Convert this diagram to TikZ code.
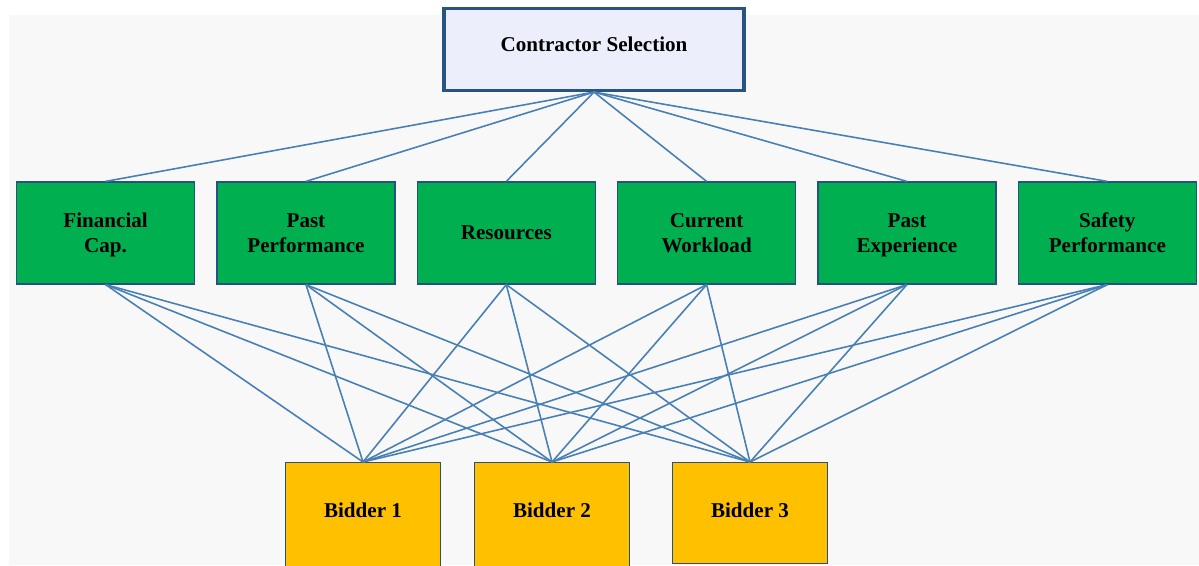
\documentclass[tikz,border=0pt]{standalone}
\usepackage{fontspec}
\setmainfont{Liberation Serif}
\usepackage{xcolor}
\usepackage{tikz}
\usetikzlibrary{positioning, shadows}
\definecolor{goalfill}{RGB}{236,239,251}
\definecolor{goalline}{RGB}{40,84,130}
\definecolor{critfill}{RGB}{0,176,80}
\definecolor{altfill}{RGB}{255,192,0}
\definecolor{boxline}{RGB}{38,82,128}
\definecolor{linkline}{RGB}{72,128,182}
\definecolor{paper}{RGB}{248,248,248}

\begin{document}
\begin{tikzpicture}[x=0.02cm, y=-0.02cm,
   every node/.style={font=\fontsize{12}{14.2}\selectfont\bfseries},
   goal/.style={rectangle, draw=goalline, line width=1.8pt, fill=goalfill,
                minimum width=6.0cm, minimum height=1.64cm, text depth=6.5pt,
                drop shadow={shadow xshift=0.7pt, shadow yshift=-0.7pt, opacity=0.45}},
   crit/.style={rectangle, draw=boxline, line width=0.7pt, fill=critfill,
                minimum width=3.56cm, minimum height=2.04cm, text depth=0pt,
                align=center, inner sep=2pt},
   alt/.style={rectangle, draw=boxline, line width=0.7pt, fill=altfill,
               minimum width=3.1cm, text depth=6pt, anchor=north},
   link/.style={draw=linkline, line width=0.9pt}]
  \useasboundingbox (0,0) rectangle (1199,565);
  \fill[paper] (9,15) rectangle (1199,565);

  % goal
  \node[goal] (goal) at (594,49.5) {Contractor Selection};

  % criteria
  \node[crit] (fin) at (105.6,233) {Financial\\Cap.};
  \node[crit, right=0.423cm of fin] (pperf) {Past\\Performance};
  \node[crit, right=0.423cm of pperf] (res) {Resources};
  \node[crit, right=0.423cm of res] (work) {Current\\Workload};
  \node[crit, right=0.423cm of work] (pexp) {Past\\Experience};
  \node[crit, right=0.423cm of pexp] (safe) {Safety\\Performance};

  % alternatives
  \node[alt, minimum height=2.12cm] (bid1) at (363,462) {Bidder 1};
  \node[alt, minimum height=2.12cm] (bid2) at (552,462) {Bidder 2};
  \node[alt, minimum height=2.02cm, text depth=3pt] (bid3) at (750,462) {Bidder 3};

  \foreach \c in {fin, pperf, res, work, pexp, safe} {
    \draw[link] (goal.south) -- (\c.north);
    \foreach \b in {bid1, bid2, bid3}
      \draw[link] (\c.south) -- (\b.north);
  }
\end{tikzpicture}
\end{document}
